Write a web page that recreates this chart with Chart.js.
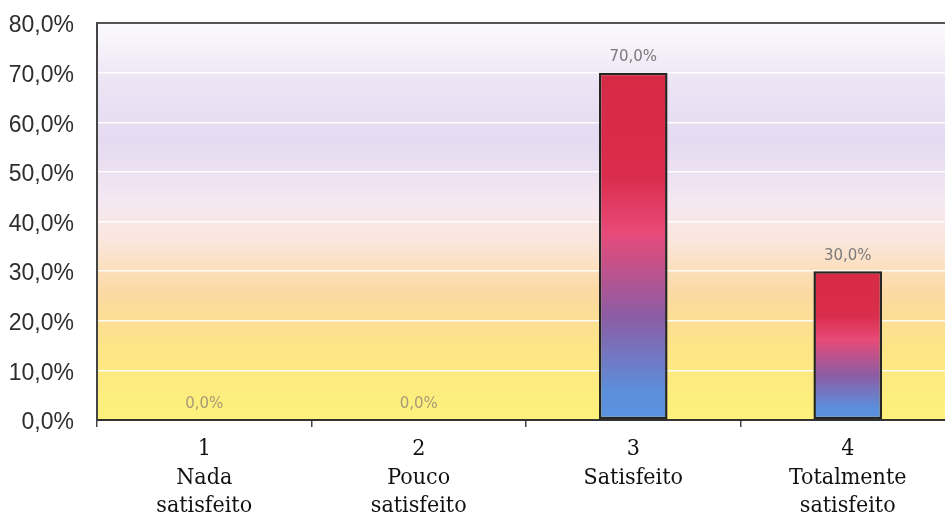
<!DOCTYPE html>
<html>
<head>
<meta charset="utf-8">
<script src="https://cdn.jsdelivr.net/npm/chart.js@4.4.1/dist/chart.umd.min.js"></script>
<style>
    html, body { margin: 0; padding: 0; background: #fff; overflow: hidden; }
    #wrap { width: 955px; height: 517px; position: relative; }
</style>
</head>
<body>
<div id="wrap"><canvas id="myChart"></canvas></div>
<script>
// categorias (eixo x)
const categories = [
    ['1', 'Nada', 'satisfeito'],
    ['2', 'Pouco', 'satisfeito'],
    ['3', 'Satisfeito'],
    ['4', 'Totalmente', 'satisfeito']
];
// valores em %
const values = [0, 0, 70, 30];
const yMax = 80;
const yStep = 10;

const fmt = v => v.toFixed(1).replace('.', ',') + '%';

// fundo da area do grafico (amarelo -> laranja -> lilas -> branco)
const plotBackground = {
    id: 'plotBackground',
    beforeDraw(chart) {
        const { ctx, chartArea: a } = chart;
        const g = ctx.createLinearGradient(0, a.bottom, 0, a.top);
        g.addColorStop(0, '#fdf27a');
        g.addColorStop(0.18, '#fde586');
        g.addColorStop(0.32, '#fcd9a2');
        g.addColorStop(0.45, '#fbe6dc');
        g.addColorStop(0.55, '#f4e8f2');
        g.addColorStop(0.7, '#e5daf0');
        g.addColorStop(0.85, '#ece4f5');
        g.addColorStop(1, '#fcfbfd');
        ctx.save();
        ctx.fillStyle = g;
        ctx.fillRect(a.left, a.top, a.right - a.left, a.bottom - a.top);
        ctx.restore();
    },
    afterDraw(chart) {
        // linha de cima do quadro
        const { ctx, chartArea: a } = chart;
        ctx.save();
        ctx.strokeStyle = '#555';
        ctx.lineWidth = 2;
        ctx.beginPath();
        ctx.moveTo(a.left, a.top);
        ctx.lineTo(a.right, a.top);
        ctx.stroke();
        ctx.restore();
    }
};

// rotulos de valor em cima das barras
const valueLabels = {
    id: 'valueLabels',
    afterDatasetsDraw(chart) {
        const { ctx } = chart;
        const meta = chart.getDatasetMeta(0);
        ctx.save();
        ctx.font = '15px "DejaVu Sans", sans-serif';
        ctx.textAlign = 'center';
        ctx.textBaseline = 'bottom';
        meta.data.forEach((bar, i) => {
            ctx.fillStyle = values[i] === 0 ? '#a89a78' : '#7a7a7a';
            ctx.fillText(fmt(values[i]), bar.x, bar.y - 8);
        });
        ctx.restore();
    }
};

const barGradient = (c) => {
    const chart = c.chart;
    if (!chart.chartArea || c.dataIndex === undefined) return '#d9294a';
    const y = chart.scales.y;
    const top = y.getPixelForValue(values[c.dataIndex]);
    const base = y.getPixelForValue(0);
    if (base - top < 1) return '#5b8fdc';
    const g = chart.ctx.createLinearGradient(0, top, 0, base);
    g.addColorStop(0, '#d72a45');
    g.addColorStop(0.3, '#da2d4d');
    g.addColorStop(0.46, '#e84a78');
    g.addColorStop(0.7, '#8c5ca4');
    g.addColorStop(0.92, '#5b8fdc');
    g.addColorStop(1, '#5a93e0');
    return g;
};

new Chart(document.getElementById('myChart'), {
    type: 'bar',
    data: {
        labels: categories,
        datasets: [{
            data: values,
            backgroundColor: barGradient,
            borderColor: '#262626',
            borderWidth: 2.5,
            borderSkipped: false,
            categoryPercentage: 1,
            barPercentage: 0.32
        }]
    },
    options: {
        responsive: true,
        maintainAspectRatio: false,
        animation: false,
        layout: { padding: 0 },
        plugins: {
            legend: { display: false },
            tooltip: { enabled: false }
        },
        scales: {
            x: {
                grid: {
                    offset: true,
                    drawOnChartArea: false,
                    drawTicks: true,
                    tickLength: 7,
                    color: '#444',
                    lineWidth: 1.5
                },
                border: { color: '#333', width: 2 },
                ticks: {
                    color: '#111',
                    padding: 8,
                    maxRotation: 0,
                    autoSkip: false,
                    font: { family: '"DejaVu Serif Condensed", "DejaVu Serif", serif', size: 23, lineHeight: 1.24 }
                },
                afterFit(s) { s.height = 97; s.paddingLeft = 0; s.paddingRight = 0; }
            },
            y: {
                min: 0,
                max: yMax,
                ticks: {
                    stepSize: yStep,
                    color: '#2e2e2e',
                    padding: 23,
                    labelOffset: 3,
                    callback: v => fmt(v),
                    font: { family: '"Liberation Sans", Arial, sans-serif', size: 23 }
                },
                grid: { color: 'rgba(255,255,255,0.9)', lineWidth: 1.5, drawTicks: false },
                border: { color: '#444', width: 2 },
                afterFit(s) { s.width = 97; s.paddingTop = 23; s.paddingBottom = 0; }
            }
        }
    },
    plugins: [plotBackground, valueLabels]
});
</script>
</body>
</html>
